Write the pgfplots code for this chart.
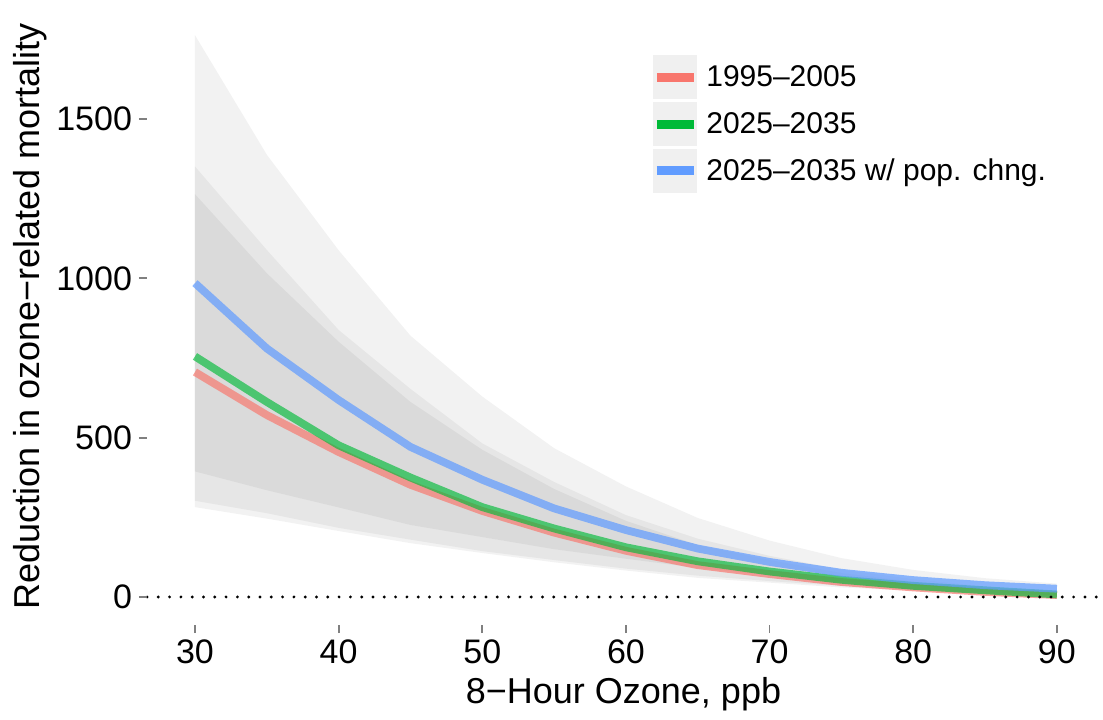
\documentclass[border=0pt]{standalone}
\usepackage{fontspec}
\setmainfont{Liberation Sans}
\usepackage{pgfplots}
\pgfplotsset{compat=1.18}
\usepgfplotslibrary{fillbetween}
\usepackage{pgfplotstable}

\definecolor{cred}{HTML}{F8766D}
\definecolor{cgreen}{HTML}{00BA38}
\definecolor{cblue}{HTML}{619CFF}

\pgfplotstableread{
x red rlo rhi green glo ghi blue blo bhi
30 706 282 1264 755 302 1351 985 394 1763
35 571 246 1016 612 263 1089 780 335 1388
40 455 207 801 476 217 838 618 281 1088
45 352 169 612 375 180 653 471 226 820
50 270 138 462 282 144 482 368 188 629
55 202 109 339 215 116 361 278 150 467
60 145 83 239 156 89 257 210 120 347
65 100 60 163 112 67 183 152 91 248
70 72 45 116 80 50 129 110 68 177
75 47 30 75 54 35 86 76 49 122
80 30 20 48 35 23 56 53 35 85
85 16 11 26 21 14 34 37 25 59
90 6 4 10 8 6 13 26 18 42
}\data

\begin{document}
\begin{tikzpicture}
\begin{axis}[
  scale only axis, width=476.5pt, height=308.5pt,
  xmin=26.66, xmax=93, ymin=-87.9, ymax=1848.3,
  axis x line*=bottom, axis y line*=left,
  axis line style={draw=none},
  xtick={30,40,...,90}, ytick={0,500,1000,1500},
  tick align=outside, major tick length=4pt,
  tick style={draw=black!50, line width=0.9pt},
  ticklabel style={font=\fontsize{17}{20}\selectfont},
  /pgf/number format/assume math mode=true,
  /pgf/number format/set thousands separator={},
  xlabel={8−Hour Ozone, ppb},
  ylabel={Reduction in ozone−related mortality},
  ylabel shift=-2pt,
  label style={font=\fontsize{18}{21}\selectfont},
  legend cell align=left,
  legend style={at={(axis cs:61.81,1700.8)}, anchor=north west, draw=none, fill=none,
    inner sep=0pt, row sep=1.5pt, font=\fontsize{15}{18}\selectfont,
    nodes={inner sep=0pt, anchor=west},
    /tikz/every odd column/.append style={column sep=4pt}},
  legend image code/.code={\fill[black!6] (0pt,-10.75pt) rectangle (21.5pt,10.75pt);
    \draw[#1, line width=4.5pt] (1.5pt,0pt) -- (20pt,0pt);},
]
% ribbons
\addplot[name path=rhi, draw=none, forget plot] table[x=x,y=rhi]{\data};
\addplot[name path=rlo, draw=none, forget plot] table[x=x,y=rlo]{\data};
\addplot[fill=black, fill opacity=0.05, draw=none, forget plot] fill between[of=rhi and rlo];
\addplot[name path=ghi, draw=none, forget plot] table[x=x,y=ghi]{\data};
\addplot[name path=glo, draw=none, forget plot] table[x=x,y=glo]{\data};
\addplot[fill=black, fill opacity=0.05, draw=none, forget plot] fill between[of=ghi and glo];
\addplot[name path=bhi, draw=none, forget plot] table[x=x,y=bhi]{\data};
\addplot[name path=blo, draw=none, forget plot] table[x=x,y=blo]{\data};
\addplot[fill=black, fill opacity=0.05, draw=none, forget plot] fill between[of=bhi and blo];
% lines
\addplot[cred, draw opacity=0.68, line width=3.9pt, line join=round, forget plot] table[x=x,y=red]{\data};
\addplot[cgreen, draw opacity=0.65, line width=3.9pt, line join=round, forget plot] table[x=x,y=green]{\data};
\addplot[cblue, draw opacity=0.72, line width=3.9pt, line join=round, forget plot] table[x=x,y=blue]{\data};
% zero line
\addplot[black, line width=1.6pt, line cap=round, dash pattern=on 0pt off 5.65pt, forget plot] coordinates {(26.66,0) (93,0)};
% legend
\addlegendimage{cred}
\addlegendentry{1995–2005}
\addlegendimage{cgreen}
\addlegendentry{2025–2035}
\addlegendimage{cblue}
\addlegendentry{2025–2035 w/ pop. chng.}
\end{axis}
\pgfresetboundingbox
\path (-73.5pt,-47pt) rectangle (478pt,312.5pt);
\end{tikzpicture}
\end{document}
